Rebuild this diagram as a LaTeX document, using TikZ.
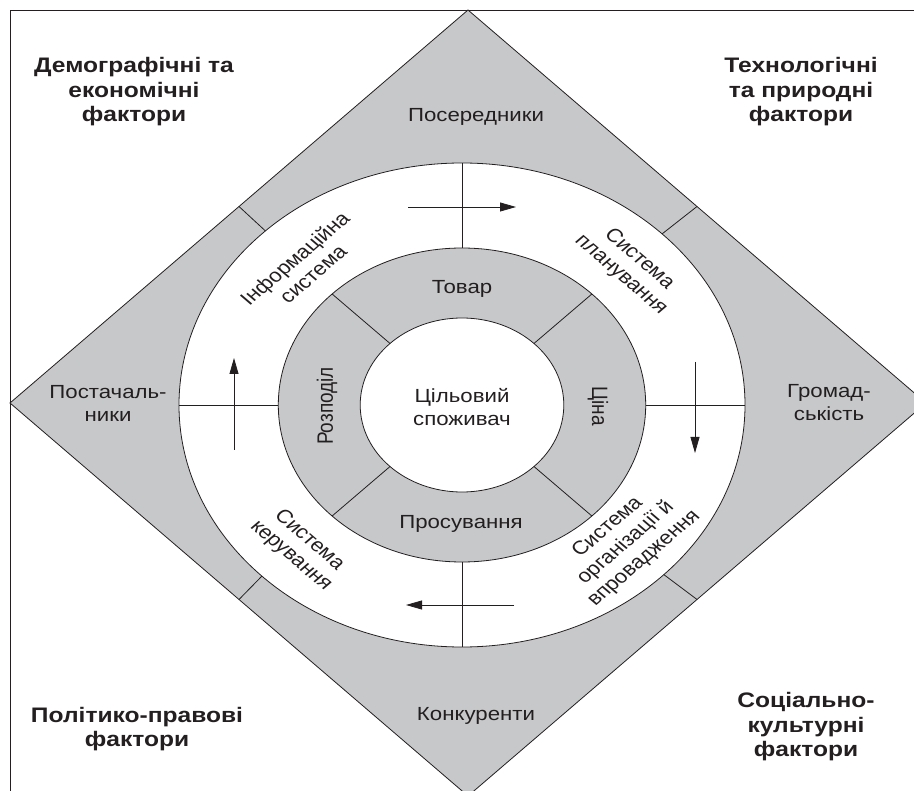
\documentclass[tikz,border=0pt]{standalone}
\usepackage{fontspec}
\setmainfont{Liberation Sans}
\usetikzlibrary{arrows.meta,calc}
\definecolor{ringgray}{RGB}{199,200,202}
\definecolor{ink}{RGB}{35,31,32}
\begin{document}
\begin{tikzpicture}[x=1pt,y=-1pt,line width=0.8pt,
  lab/.style={font=\fontsize{19}{23}\selectfont, align=center, text=ink, inner sep=0pt, xscale=1.17},
  ringlab/.style={font=\fontsize{19}{22}\selectfont, align=center, text=ink, inner sep=0pt, xscale=1.17},
  ttl/.style={font=\fontsize{21}{24.5}\selectfont\bfseries, align=center, text=ink, inner sep=0pt, xscale=1.17},
  arr/.style={draw=ink, -{Triangle[length=16pt,width=9pt]}},
  sep/.style={draw=ink}]
\useasboundingbox (0,0) rectangle (914,791);
\clip (0,0) rectangle (914,791);
% frame
\draw[ink] (10,800) -- (10,10) -- (920,10);
% diamond
\coordinate (dT) at (468,10);
\coordinate (dR) at (926,403);
\coordinate (dB) at (468,796);
\coordinate (dL) at (10,403);
\draw[ink, fill=ringgray] (dT) -- (dR) -- (dB) -- (dL) -- cycle;
% rings
\coordinate (c) at (462,405);
\draw[ink, fill=white] (c) ellipse [x radius=283pt, y radius=242pt];
\draw[ink, fill=ringgray] (c) ellipse [x radius=183.7pt, y radius=157pt];
\draw[ink, fill=white] (c) ellipse [x radius=101.8pt, y radius=87pt];
% outer separators
\coordinate (eTL) at ($(dL)!0.5!(dT)$);
\coordinate (eTR) at ($(dT)!0.5!(dR)$);
\coordinate (eBR) at ($(dR)!0.5!(dB)$);
\coordinate (eBL) at ($(dB)!0.5!(dL)$);
\coordinate (iTL) at ({462+283*cos(134)},{405-242*sin(134)});
\coordinate (iTR) at ({462+283*cos(45)},{405-242*sin(45)});
\coordinate (iBR) at ({462+283*cos(-44.5)},{405-242*sin(-44.5)});
\coordinate (iBL) at ({462+283*cos(-135)},{405-242*sin(-135)});
\draw[sep] (eTL) -- (iTL);
\draw[sep] (eTR) -- (iTR);
\draw[sep] (eBR) -- (iBR);
\draw[sep] (eBL) -- (iBL);
% white ring cross
\coordinate (wT1) at (462,163); \coordinate (wT2) at (462,248);
\coordinate (wB1) at (462,562); \coordinate (wB2) at (462,647);
\coordinate (wL1) at (179,405); \coordinate (wL2) at (278.3,405);
\coordinate (wR1) at (645.7,405); \coordinate (wR2) at (745,405);
\draw[sep] (wT1) -- (wT2);
\draw[sep] (wB1) -- (wB2);
\draw[sep] (wL1) -- (wL2);
\draw[sep] (wR1) -- (wR2);
% middle ring separators
\foreach \a in {45,135,225,315}{
  \coordinate (mA) at ({462+101.8*cos(\a)},{405-87*sin(\a)});
  \coordinate (mB) at ({462+183.7*cos(\a)},{405-157*sin(\a)});
  \draw[sep] (mA) -- (mB);
}
% arrows
\coordinate (aT1) at (408,207); \coordinate (aT2) at (516,207);
\coordinate (aR1) at (695,362); \coordinate (aR2) at (695,453);
\coordinate (aB1) at (514,605); \coordinate (aB2) at (406,605);
\coordinate (aL1) at (234,450); \coordinate (aL2) at (234,358);
\draw[arr] (aT1) -- (aT2);
\draw[arr] (aR1) -- (aR2);
\draw[arr] (aB1) -- (aB2);
\draw[arr] (aL1) -- (aL2);
% titles
\node[ttl] (fDem) at (134,92) {Демографічні та\\економічні\\фактори};
\node[ttl] (fTech) at (801,92) {Технологічні\\та природні\\фактори};
\node[ttl] (fPol) at (137,729) {Політико-правові\\фактори};
\node[ttl] (fSoc) at (806,727) {Соціально-\\культурні\\фактори};
% outer labels
\node[lab, anchor=base] (pos) at (476,122) {Посередники};
\node[lab, anchor=base] (kon) at (476,720) {Конкуренти};
\node[lab] (post) at (108,403) {Постачаль-\\ники};
\node[lab] (grom) at (829,403) {Громад-\\ськість};
% inner ring labels
\node[lab, anchor=base] (tov) at (462,294) {Товар};
\node[lab, anchor=base] (pros) at (461,529) {Просування};
\node[lab] (cil) at (462,407) {Цільовий\\споживач};
\node[lab, rotate=90] (rozp) at (327,406) {Розподіл};
\node[lab, rotate=-90] (cina) at (598,406) {Ціна};
% white ring labels
\node[ringlab, rotate=45] (inf) at (303.5,266) {Інформаційна\\система};
\node[ringlab, rotate=-45] (plan) at (630,267) {Система\\планування};
\node[ringlab, rotate=-45] (ker) at (300,548) {Система\\керування};
\node[ringlab, rotate=45] (org) at (626,543) {Система\\організації й\\впровадження};
\end{tikzpicture}
\end{document}
